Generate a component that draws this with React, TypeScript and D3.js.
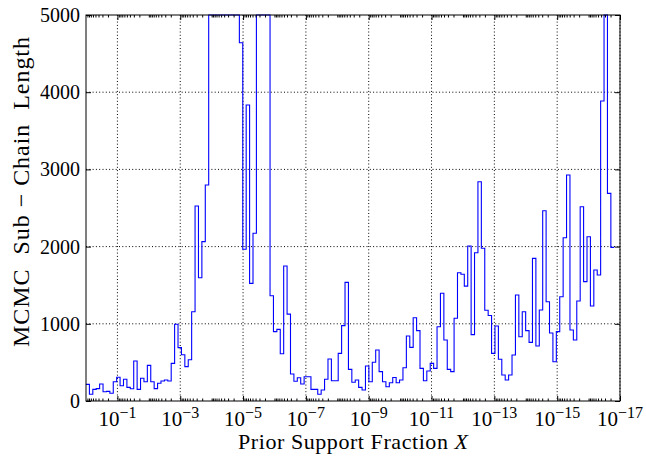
import React, { useEffect, useRef } from 'react'
import * as d3 from 'd3'

// chain length per log-spaced bin of the prior support fraction (left to right)
const chainLength = [
  216, 87, 151, 160, 220, 120, 125, 100, 250, 307,
  198, 281, 177, 159, 518, 151, 294, 250, 462, 250,
  160, 229, 259, 272, 259, 488, 995, 692, 600, 445,
  535, 1157, 2526, 1597, 2064, 2798, 5000, 5000, 5000, 5000,
  5000, 5000, 5000, 5000, 5000, 4641, 1965, 3834, 1524, 2172,
  5000, 5000, 5000, 5000, 1364, 898, 928, 613, 1749, 1125,
  350, 255, 302, 220, 315, 315, 151, 151, 87, 142,
  281, 544, 263, 263, 617, 976, 1537, 410, 242, 272,
  177, 142, 453, 250, 501, 660, 380, 250, 185, 236,
  305, 237, 272, 431, 842, 695, 1079, 911, 423, 263,
  389, 488, 423, 962, 1395, 790, 410, 380, 1071, 1662,
  1641, 1488, 2008, 860, 1921, 2841, 1978, 1175, 1108, 617,
  971, 540, 337, 272, 337, 596, 1373, 833, 1157, 911,
  760, 1848, 712, 1179, 2465, 1286, 880, 509, 898, 1351,
  2115, 2927, 920, 790, 1295, 2517, 1546, 2128, 1230, 1697,
  1632, 3886, 5000, 2690, 1990,
]
const logStart = 0 // log10 of the first bin edge
const logStep = 0.1085 // bin width in decades

const yTicks = [0, 1000, 2000, 3000, 4000, 5000]
const xTickExps = [-1, -3, -5, -7, -9, -11, -13, -15, -17]

const W = 646
const H = 456
const plot = { left: 86, right: 620, top: 15, bottom: 401 }
const font = '"Liberation Serif", "DejaVu Serif", serif'

function App() {
  const svgRef = useRef(null)

  useEffect(() => {
    const svg = d3.select(svgRef.current)
    svg.selectAll('*').remove()

    const x = d3.scaleLog().domain([1, 1e-17]).range([plot.left, plot.right])
    const y = d3.scaleLinear().domain([0, 5000]).range([plot.bottom, plot.top])

    // dotted grid on the major ticks
    const grid = svg.append('g')
      .attr('stroke', '#000')
      .attr('stroke-width', 1)
      .attr('stroke-dasharray', '1,2.3')
    grid.selectAll('.gx')
      .data(xTickExps)
      .join('line')
      .attr('x1', d => x(Math.pow(10, d)))
      .attr('x2', d => x(Math.pow(10, d)))
      .attr('y1', plot.top)
      .attr('y2', plot.bottom)
    grid.selectAll('.gy')
      .data(yTicks.slice(1, -1))
      .join('line')
      .attr('x1', plot.left)
      .attr('x2', plot.right)
      .attr('y1', d => y(d))
      .attr('y2', d => y(d))

    // step line
    svg.append('clipPath').attr('id', 'plotclip')
      .append('rect')
      .attr('x', plot.left).attr('y', plot.top - 1)
      .attr('width', plot.right - plot.left).attr('height', plot.bottom - plot.top + 1)

    const pts = chainLength.map((v, i) => [Math.pow(10, logStart - i * logStep), v])
    pts.push([Math.pow(10, logStart - chainLength.length * logStep), chainLength[chainLength.length - 1]])

    const stepLine = d3.line()
      .x(d => x(d[0]))
      .y(d => y(d[1]))
      .curve(d3.curveStepAfter)

    svg.append('path')
      .datum(pts)
      .attr('d', stepLine)
      .attr('fill', 'none')
      .attr('stroke', '#0000ff')
      .attr('stroke-width', 1.1)
      .attr('clip-path', 'url(#plotclip)')

    // ticks (inside, on all four sides)
    const majors = xTickExps.map(e => Math.pow(10, e))
    const minors = []
    for (let e = -17; e < 0; e++) {
      if (e % 2 === 0) minors.push(Math.pow(10, e))
      for (let k = 2; k <= 9; k++) minors.push(k * Math.pow(10, e))
    }

    const addAxis = (axis, tx, ty) => {
      const g = svg.append('g').attr('transform', `translate(${tx},${ty})`).call(axis)
      g.select('.domain').remove()
      g.selectAll('line').attr('stroke', '#000').attr('stroke-width', 1)
      g.selectAll('text').remove()
    }
    addAxis(d3.axisBottom(x).tickValues(majors).tickSize(-5), 0, plot.bottom)
    addAxis(d3.axisBottom(x).tickValues(minors).tickSize(-2.5), 0, plot.bottom)
    addAxis(d3.axisTop(x).tickValues(majors).tickSize(-5), 0, plot.top)
    addAxis(d3.axisTop(x).tickValues(minors).tickSize(-2.5), 0, plot.top)
    addAxis(d3.axisLeft(y).tickValues(yTicks).tickSize(-5), plot.left, 0)
    addAxis(d3.axisRight(y).tickValues(yTicks).tickSize(-5), plot.right, 0)

    // frame
    svg.append('rect')
      .attr('x', plot.left).attr('y', plot.top)
      .attr('width', plot.right - plot.left).attr('height', plot.bottom - plot.top)
      .attr('fill', 'none').attr('stroke', '#000').attr('stroke-width', 1)

    // tick labels
    svg.append('g').selectAll('text')
      .data(yTicks)
      .join('text')
      .attr('x', plot.left - 6)
      .attr('y', d => y(d))
      .attr('dy', '0.35em')
      .attr('text-anchor', 'end')
      .attr('font-family', font)
      .attr('font-size', 20)
      .text(d => d)

    const xl = svg.append('g').selectAll('text')
      .data(xTickExps)
      .join('text')
      .attr('x', d => x(Math.pow(10, d)))
      .attr('y', 426)
      .attr('text-anchor', 'middle')
      .attr('font-family', font)
      .attr('font-size', 21)
    xl.append('tspan').text('10')
    xl.append('tspan')
      .attr('dy', -8)
      .attr('font-size', 16)
      .text(d => '\u2212' + Math.abs(d))

    // axis titles
    const xt = svg.append('text')
      .attr('x', (plot.left + plot.right) / 2)
      .attr('y', 449)
      .attr('text-anchor', 'middle')
      .attr('font-family', font)
      .attr('font-size', 22)
      .attr('textLength', 230)
      .attr('lengthAdjust', 'spacing')
    xt.append('tspan').text('Prior Support Fraction ')
    xt.append('tspan').attr('font-style', 'italic').text('X')

    svg.append('text')
      .attr('transform', 'translate(29,192) rotate(-90)')
      .attr('text-anchor', 'middle')
      .attr('font-family', font)
      .attr('font-size', 24)
      .attr('textLength', 310)
      .attr('lengthAdjust', 'spacing')
      .style('white-space', 'pre')
      .text('MCMC  Sub \u2212 Chain  Length')
  }, [])

  return (
    <svg
      ref={svgRef}
      width={W}
      height={H}
      style={{ position: 'absolute', left: 0, top: 0, background: '#fff' }}
    />
  )
}

export default App
